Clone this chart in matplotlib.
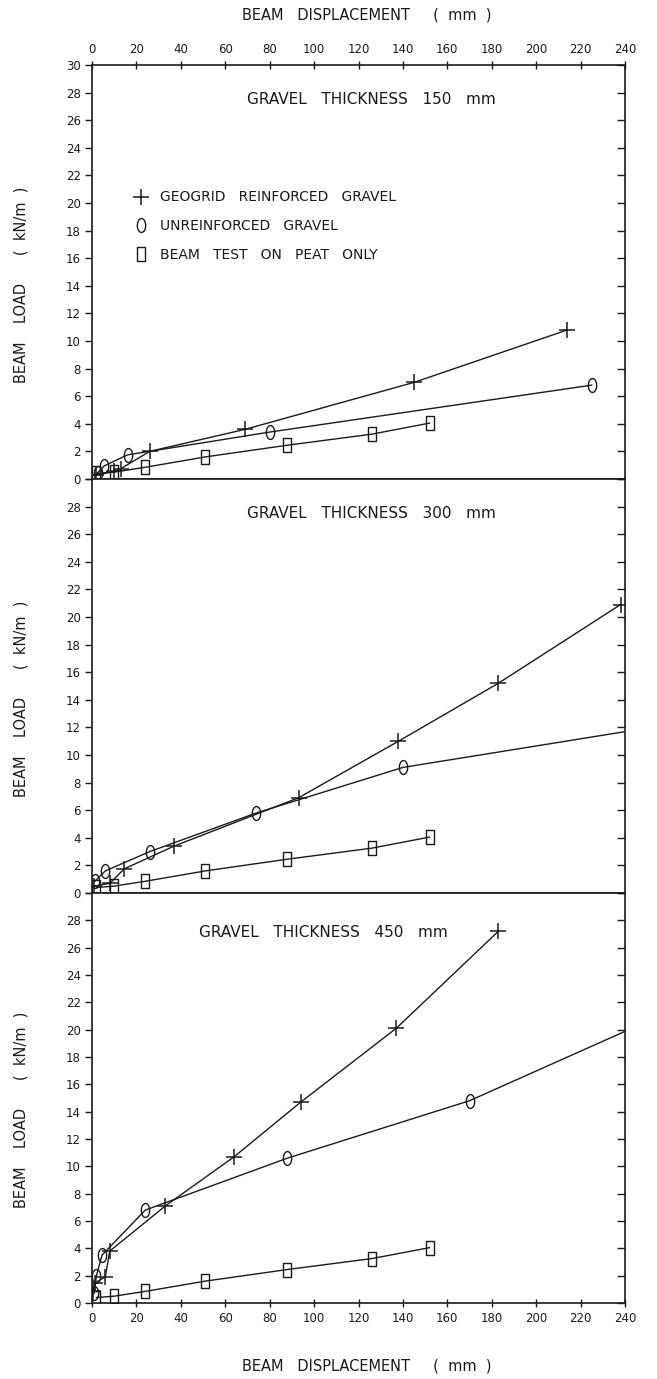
import matplotlib
matplotlib.use("Agg")
import matplotlib.pyplot as plt
from matplotlib.path import Path
from matplotlib.lines import Line2D
import numpy as np

plt.rcParams['font.family'] = ['DejaVu Sans']

# ---------------- data ----------------
x_ticks = [0, 20, 40, 60, 80, 100, 120, 140, 160, 180, 200, 220, 240]
y_ticks = [0, 2, 4, 6, 8, 10, 12, 14, 16, 18, 20, 22, 24, 26, 28, 30]

titles = ["GRAVEL   THICKNESS   150   mm", "GRAVEL   THICKNESS   300   mm",
          "GRAVEL   THICKNESS   450   mm"]
legend_labels = ["GEOGRID   REINFORCED   GRAVEL", "UNREINFORCED   GRAVEL",
                 "BEAM   TEST   ON   PEAT   ONLY"]
x_label = "BEAM   DISPLACEMENT     (  mm  )"
y_label = "BEAM    LOAD      (  kN/m  )"

# beam test on peat only (same test shown in each panel)
peat_disp = [2, 10, 24, 51, 88, 126, 152]
peat_load = [0.4, 0.5, 0.85, 1.6, 2.45, 3.25, 4.05]

# 150 mm gravel
geo150_disp = [2, 10, 13, 26, 69, 145, 214]
geo150_load = [0.3, 0.55, 0.75, 2.0, 3.6, 7.0, 10.8]
unr150_disp = [2.5, 5.5, 16, 80, 225]
unr150_load = [0.45, 0.95, 1.75, 3.4, 6.8]

# 300 mm gravel
geo300_disp = [1, 8, 14.5, 37, 93, 138, 183, 238]
geo300_load = [0.5, 0.7, 1.75, 3.4, 6.9, 11.0, 15.2, 20.9]
unr300_disp = [1.3, 6, 26, 74, 140, 250]
unr300_load = [0.85, 1.6, 3.0, 5.8, 9.1, 11.95]

# 450 mm gravel
geo450_disp = [0.5, 1.5, 6, 8, 33, 64, 94, 137, 183]
geo450_load = [0.9, 1.5, 1.9, 3.8, 7.1, 10.7, 14.7, 20.1, 27.2]
unr450_disp = [1, 2, 4.5, 24, 88, 170, 250]
unr450_load = [0.7, 2.0, 3.5, 6.8, 10.6, 14.8, 20.6]

panels = [
    (geo150_disp, geo150_load, unr150_disp, unr150_load),
    (geo300_disp, geo300_load, unr300_disp, unr300_load),
    (geo450_disp, geo450_load, unr450_disp, unr450_load),
]

# ---------------- markers ----------------
t = np.linspace(0, 2 * np.pi, 60)
ellipse = Path(np.column_stack([0.6 * np.cos(t), np.sin(t)]), closed=True)
rect = Path([(-0.6, -1), (0.6, -1), (0.6, 1), (-0.6, 1), (-0.6, -1)], closed=True)

INK = "#1a1a1a"
FS = 8.5
LFS = 10.5

fig = plt.figure(figsize=(6.57, 13.79), dpi=100)
left, width = 92 / 657, 533 / 657
boxes = [(65, 479), (479, 893), (893, 1303)]
axes = []
for i, (top, bot) in enumerate(boxes):
    ax = fig.add_axes([left, 1 - bot / 1379, width, (bot - top) / 1379])
    axes.append(ax)

for i, ax in enumerate(axes):
    gd, gl, ud, ul = panels[i]
    ax.plot(peat_disp, peat_load, color=INK, lw=1.0, marker=rect, ms=10,
            mfc="none", mec=INK, mew=1.0)
    ax.plot(ud, ul, color=INK, lw=1.0, marker=ellipse, ms=10,
            mfc="none", mec=INK, mew=1.0)
    ax.plot(gd, gl, color=INK, lw=1.0, marker="+", ms=11, mec=INK, mew=1.1)

    ax.set_xlim(0, 240)
    ax.set_ylim(0, 30)
    ax.set_yticks(y_ticks)
    ylabels = [str(v) for v in y_ticks]
    if i > 0:
        ylabels[-1] = ""
    ax.set_yticklabels(ylabels, fontsize=FS, color=INK)
    ax.set_xticks(x_ticks)
    ax.tick_params(axis="y", left=True, right=False, direction="out",
                   length=5, width=1.0, color=INK, pad=3)
    for sp in ax.spines.values():
        sp.set_linewidth(1.2)
        sp.set_color(INK)

    if i == 0:
        ax.tick_params(axis="x", top=True, bottom=False, labeltop=True, labelbottom=False,
                       direction="inout", length=6, width=1.0, labelsize=FS, colors=INK)
    elif i == 2:
        ax.tick_params(axis="x", top=False, bottom=True, labeltop=False, labelbottom=True,
                       direction="inout", length=6, width=1.0, labelsize=FS, colors=INK)
    else:
        ax.tick_params(axis="x", top=False, bottom=False, labeltop=False, labelbottom=False)

    ax.set_ylabel(y_label, fontsize=LFS, color=INK)
    ax.yaxis.set_label_coords(-0.12, 0.47)
    tx = 126 if i < 2 else 104
    ty = 27.5 if i < 2 else 27.1
    ax.text(tx, ty, titles[i], ha="center", va="center", fontsize=11, color=INK)

    # right-side inward ticks
    ax2 = ax.twinx()
    ax2.set_ylim(0, 30)
    ax2.set_yticks(y_ticks)
    ax2.tick_params(axis="y", direction="in", length=6, width=1.0, colors=INK,
                    labelright=False)
    for sp in ax2.spines.values():
        sp.set_visible(False)

# legend in top panel
handles = [
    Line2D([], [], ls="none", marker="+", ms=11, mec=INK, mew=1.1),
    Line2D([], [], ls="none", marker=ellipse, ms=10, mfc="none", mec=INK, mew=1.0),
    Line2D([], [], ls="none", marker=rect, ms=10, mfc="none", mec=INK, mew=1.0),
]
axes[0].legend(handles, legend_labels, loc="upper left", bbox_to_anchor=(0.082, 0.697),
               frameon=False, handlelength=0.75, handletextpad=1.0, labelspacing=1.05,
               borderpad=0, borderaxespad=0, fontsize=10, labelcolor=INK)

fig.text(367 / 657, 1 - 15 / 1379, x_label, ha="center",
         va="center", fontsize=LFS, color=INK)
fig.text(367 / 657, 1 - 1366 / 1379, x_label, ha="center",
         va="center", fontsize=LFS, color=INK)

fig.savefig("out.png", dpi=100)
